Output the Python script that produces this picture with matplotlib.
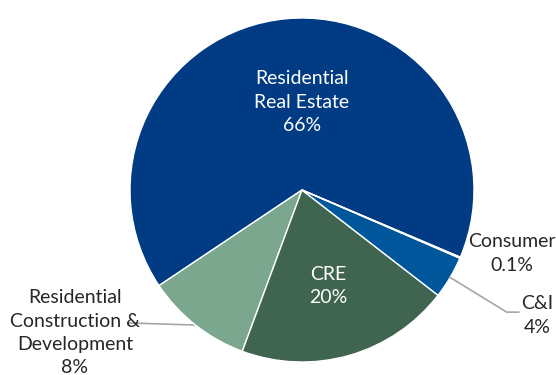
import numpy as np
import matplotlib.pyplot as plt

# shares (the printed labels are rounded)
categories = ["Residential Real Estate", "Residential Construction & Development",
              "CRE", "C&I", "Consumer"]
shares = [65.9, 10.0, 20.2, 4.0, 0.1]
labels = ["Residential\nReal Estate\n66%", "Residential\nConstruction &\nDevelopment\n8%",
          "CRE\n20%", "C&I\n4%", "Consumer\n0.1%"]
colors = ["#003B83", "#7BA78F", "#3F6450", "#00569A", "#C9D3DD"]

plt.rcParams['font.family'] = ['Lato', 'DejaVu Sans']

fig = plt.figure(figsize=(5.56, 3.75), dpi=100)
ax = fig.add_axes([130 / 556, 13 / 375, 344 / 556, 344 / 375])

wedges, _ = ax.pie(shares, colors=colors, startangle=-23, counterclock=True,
                   wedgeprops=dict(edgecolor="white", linewidth=1.0))
ax.set_xlim(-1, 1)
ax.set_ylim(-1, 1)
ax.set_aspect("equal")
ax.axis("off")

txt = "#262626"
fs = 14
ls = 1.45

def mid(w):
    a = np.deg2rad((w.theta1 + w.theta2) / 2)
    return np.cos(a), np.sin(a)

# inside labels
ax.text(0, 0.51, labels[0], ha="center", va="center", color="white",
        fontsize=fs, linespacing=ls)
ax.text(0.15, -0.56, labels[2], ha="center", va="center", color="white",
        fontsize=fs, linespacing=ls)

# outside labels
ax.text(1.22, -0.37, labels[4], ha="center", va="center", color=txt,
        fontsize=fs, linespacing=ls)
ax.text(1.37, -0.73, labels[3], ha="center", va="center", color=txt,
        fontsize=fs, linespacing=ls)
ax.text(-1.32, -0.83, labels[1], ha="center", va="center", color=txt,
        fontsize=fs, linespacing=ls, zorder=1)

# leader lines
cx, cy = mid(wedges[3])
ax.plot([cx, 1.19, 1.26], [cy, -0.71, -0.71], color="#A6A6A6", lw=1.2,
        clip_on=False, zorder=3)
rx, ry = mid(wedges[1])
ax.plot([rx, -1.01], [ry, -0.773], color="#A6A6A6", lw=1.2,
        clip_on=False, zorder=0)

fig.savefig("out.png", dpi=100)
